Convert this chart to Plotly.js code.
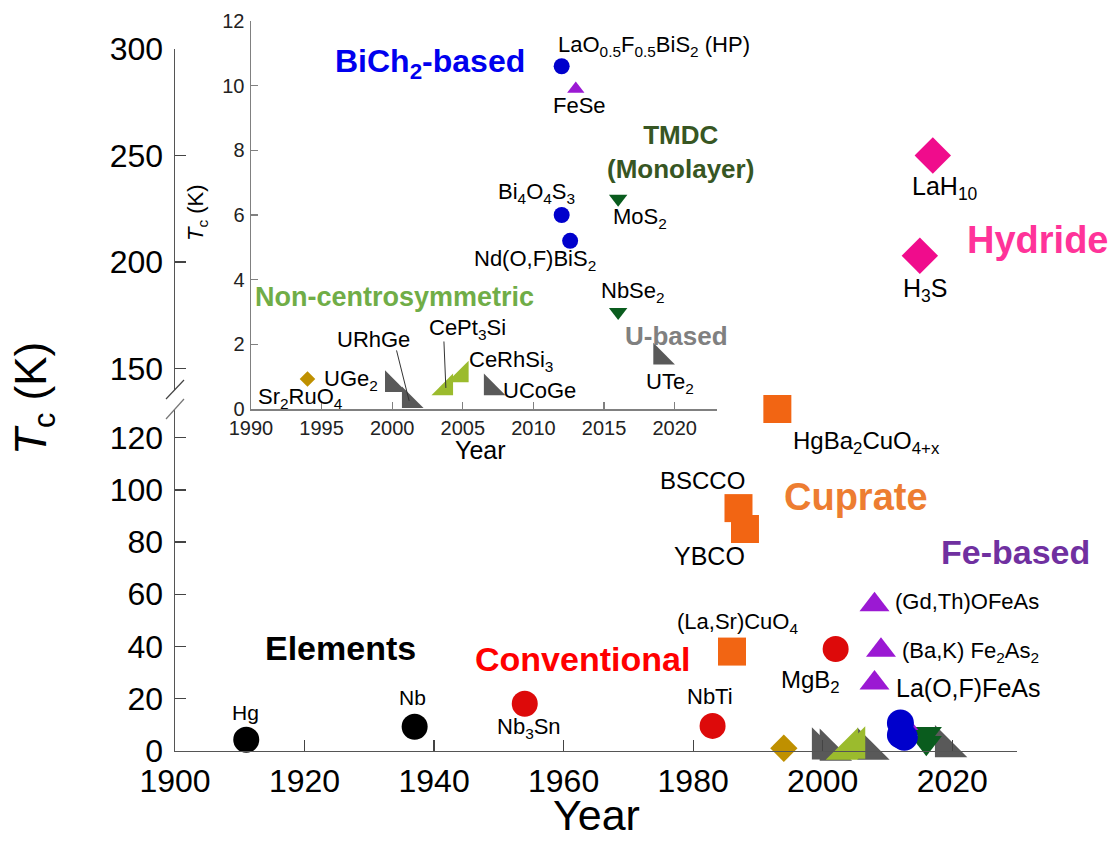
<!DOCTYPE html>
<html><head><meta charset="utf-8">
<script src="https://cdn.plot.ly/plotly-3.0.1.min.js"></script>
<style>html,body{margin:0;padding:0;background:#fff}#chart{width:1115px;height:841px}</style>
</head><body><div id="chart"></div>
<script>
// ---------------- data (year, Tc in K) ----------------
const elementsNames = ['Hg', 'Nb'];
const elementsYear = [1911, 1937];
const elementsTc = [4.2, 9.2];

const conventionalNames = ['Nb3Sn', 'NbTi', 'MgB2'];
const conventionalYear = [1954, 1983, 2002];
const conventionalTc = [18, 9.5, 39];

const cuprateNames = ['(La,Sr)CuO4', 'BSCCO', 'YBCO', 'HgBa2CuO4+x'];
const cuprateYear = [1986, 1987, 1988, 1993];
const cuprateTc = [38, 93, 85, 131];

const feNames = ['La(O,F)FeAs', '(Ba,K)Fe2As2', '(Gd,Th)OFeAs'];
const feYear = [2008, 2009, 2008];
const feTc = [26, 38.5, 56];

const feseNames = ['FeSe'];
const feseYear = [2013];
const feseTc = [9.9];

const bichNames = ['LaO0.5F0.5BiS2 (HP)', 'Bi4O4S3', 'Nd(O,F)BiS2'];
const bichYear = [2012, 2012, 2012.6];
const bichTc = [10.6, 6.0, 5.2];

const tmdcNames = ['MoS2', 'NbSe2'];
const tmdcYear = [2016, 2016];
const tmdcTc = [6.5, 3.0];

const ncNames = ['CePt3Si', 'CeRhSi3'];
const ncYear = [2003.8, 2004.9];
const ncTc = [0.65, 1.05];

const uNames = ['UGe2', 'URhGe', 'UCoGe', 'UTe2'];
const uYear = [2000, 2001.2, 2007, 2019];
const uTc = [0.75, 0.25, 0.65, 1.6];

const ruNames = ['Sr2RuO4'];
const ruYear = [1994];
const ruTc = [0.93];

const hydrideNames = ['H3S', 'LaH10'];
const hydrideYear = [2015, 2017];
const hydrideTc = [203, 250];

const mainXTicks = [1900, 1920, 1940, 1960, 1980, 2000, 2020];
const lowerYTicks = [0, 20, 40, 60, 80, 100, 120];
const upperYTicks = [150, 200, 250, 300];
const insetXTicks = [1990, 1995, 2000, 2005, 2010, 2015, 2020];
const insetYTicks = [0, 2, 4, 6, 8, 10, 12];

// ---------------- helpers ----------------
const W = 1115, H = 841;
const F = 'Liberation Sans, Arial, sans-serif';
const px = x => x / W;
const py = y => 1 - y / H;

function tr(xs, ys, names, sym, size, color, xa, ya) {
  return {
    type: 'scatter', mode: 'markers', x: xs, y: ys, text: names,
    xaxis: xa, yaxis: ya, cliponaxis: false, hoverinfo: 'text',
    marker: {symbol: sym, size: size, color: color, line: {width: 0}},
    showlegend: false
  };
}

const C = {
  el: '#000000', conv: '#DD0A0A', cup: '#F26513', fe: '#9B19D3',
  bich: '#0000CC', tmdc: '#0A5C1E', nc: '#9BBB2D', u: '#595959',
  ru: '#BF9000', hyd: '#F00C8C'
};

const traces = [
  // main (lower segment)
  tr(elementsYear, elementsTc, elementsNames, 'circle', 26, C.el, 'x', 'y'),
  tr(conventionalYear, conventionalTc, conventionalNames, 'circle', 26, C.conv, 'x', 'y'),
  tr(cuprateYear, cuprateTc, cuprateNames, 'square', 28, C.cup, 'x', 'y'),
  tr(feYear, feTc, feNames, 'triangle-up', 26, C.fe, 'x', 'y'),
  tr(ruYear, ruTc, ruNames, 'diamond', 21, C.ru, 'x', 'y'),
  tr(uYear, uTc, uNames, 'triangle-sw', 36, C.u, 'x', 'y'),
  tr(ncYear, ncTc, ncNames, 'triangle-se', 36, C.nc, 'x', 'y'),
  tr(tmdcYear, tmdcTc, tmdcNames, 'triangle-down', 27, C.tmdc, 'x', 'y'),
  tr(feseYear, feseTc, feseNames, 'triangle-up', 20, C.fe, 'x', 'y'),
  tr(bichYear, bichTc, bichNames, 'circle', 27, C.bich, 'x', 'y'),
  // main (upper segment)
  tr(hydrideYear, hydrideTc, hydrideNames, 'diamond', 28, C.hyd, 'x', 'y2'),
  // inset
  tr(ruYear, ruTc, ruNames, 'diamond', 12, C.ru, 'x2', 'y3'),
  tr(uYear, uTc, uNames, 'triangle-sw', 24, C.u, 'x2', 'y3'),
  tr(ncYear, ncTc, ncNames, 'triangle-se', 24, C.nc, 'x2', 'y3'),
  tr(tmdcYear, tmdcTc, tmdcNames, 'triangle-down', 16, C.tmdc, 'x2', 'y3'),
  tr(feseYear, feseTc, feseNames, 'triangle-up', 15, C.fe, 'x2', 'y3'),
  tr(bichYear, bichTc, bichNames, 'circle', 16, C.bich, 'x2', 'y3')
];

function lab(text, x, y, size, color, bold, angle) {
  return {
    xref: 'paper', yref: 'paper', x: px(x), y: py(y),
    xanchor: 'center', yanchor: 'middle', showarrow: false,
    text: bold ? '<b>' + text + '</b>' : text,
    textangle: angle || 0,
    font: {family: F, size: size, color: color || '#000'}
  };
}
function leader(xv, yv, ax, ay) {
  return {
    xref: 'x2', yref: 'y3', x: xv, y: yv, text: '', showarrow: true,
    arrowhead: 0, arrowwidth: 1, arrowcolor: '#333', ax: ax, ay: ay, standoff: 0
  };
}

const mainYearTitle = lab('Year', 597, 841, 43, '#000');
mainYearTitle.yanchor = 'bottom';

const annotations = [
  // axis titles
  lab('<i>T</i><sub>c</sub> (K)', 34, 399, 44, '#000', false, -90),
  mainYearTitle,
  lab('Year', 480, 450, 25, '#000'),
  lab('<i>T</i><sub>c</sub> (K)', 197, 213, 22, '#000', false, -90),
  // group labels
  lab('Elements', 340, 648, 34, '#000000', true),
  lab('Conventional', 582, 659, 34, '#FF0000', true),
  lab('Cuprate', 856, 497, 38, '#ED7D31', true),
  lab('Fe-based', 1015, 552, 34, '#7030A0', true),
  lab('Hydride', 1037, 240, 38, '#FF3399', true),
  lab('BiCh<sub>2</sub>-based', 430, 64, 32, '#0000EE', true),
  lab('TMDC<br>(Monolayer)', 680, 152, 26, '#375623', true),
  lab('Non-centrosymmetric', 394, 297, 27, '#70AD47', true),
  lab('U-based', 676, 336, 26, '#808080', true),
  // main compound labels
  lab('Hg', 245, 712, 21),
  lab('Nb', 412, 697, 21),
  lab('Nb<sub>3</sub>Sn', 529, 728, 22),
  lab('NbTi', 710, 696, 22),
  lab('(La,Sr)CuO<sub>4</sub>', 737, 623, 22),
  lab('MgB<sub>2</sub>', 810, 681, 24),
  lab('BSCCO', 702, 480, 24),
  lab('YBCO', 709, 556, 25),
  lab('HgBa<sub>2</sub>CuO<sub>4+x</sub>', 866, 442, 24),
  lab('(Gd,Th)OFeAs', 967, 601, 22),
  lab('(Ba,K) Fe<sub>2</sub>As<sub>2</sub>', 970, 652, 22),
  lab('La(O,F)FeAs', 968, 688, 25),
  lab('LaH<sub>10</sub>', 945, 188, 25),
  lab('H<sub>3</sub>S', 925, 290, 25),
  // inset compound labels
  lab('LaO<sub>0.5</sub>F<sub>0.5</sub>BiS<sub>2</sub> (HP)', 654, 46, 22),
  lab('FeSe', 579, 105, 22),
  lab('Bi<sub>4</sub>O<sub>4</sub>S<sub>3</sub>', 536, 193, 22),
  lab('MoS<sub>2</sub>', 640, 218, 22),
  lab('Nd(O,F)BiS<sub>2</sub>', 535, 260, 22),
  lab('NbSe<sub>2</sub>', 633, 292, 22),
  lab('URhGe', 373, 339, 22),
  lab('CePt<sub>3</sub>Si', 467, 329, 22),
  lab('CeRhSi<sub>3</sub>', 511, 361, 22),
  lab('UGe<sub>2</sub>', 351, 380, 22),
  lab('UCoGe', 539, 390, 22),
  lab('Sr<sub>2</sub>RuO<sub>4</sub>', 300, 398, 22),
  lab('UTe<sub>2</sub>', 670, 383, 22),
  // leader lines
  leader(uYear[1], uTc[1], -13, -52),
  leader(ncYear[0], ncTc[0], -2, -48)
];

const mainAxis = {
  showline: true, linecolor: '#555', linewidth: 1.5, ticks: 'inside', ticklen: 11,
  tickwidth: 1.3, tickcolor: '#444', showgrid: false, zeroline: false,
  tickfont: {family: F, size: 32, color: '#000'}, fixedrange: true
};
const insetAxis = {
  showline: true, linecolor: '#808080', linewidth: 1.5, ticks: 'inside', ticklen: 7,
  tickwidth: 1.2, tickcolor: '#808080', showgrid: false, zeroline: false,
  tickfont: {family: F, size: 20, color: '#222'}, fixedrange: true
};

const layout = {
  width: W, height: H, margin: {l: 0, r: 0, t: 0, b: 0},
  paper_bgcolor: '#fff', plot_bgcolor: 'rgba(0,0,0,0)', showlegend: false,
  font: {family: F},
  xaxis: Object.assign({}, mainAxis, {domain: [px(175), px(1017)], range: [1900, 2030], anchor: 'y',
    tickmode: 'array', tickvals: mainXTicks, ticklabelstandoff: 1}),
  yaxis: Object.assign({}, mainAxis, {domain: [py(750.7), py(409)], range: [0, 131], anchor: 'x',
    tickmode: 'array', tickvals: lowerYTicks, ticklabelstandoff: 4}),
  yaxis2: Object.assign({}, mainAxis, {domain: [py(390), py(49)], range: [140, 300], anchor: 'x',
    tickmode: 'array', tickvals: upperYTicks, ticklabelstandoff: 4}),
  xaxis2: Object.assign({}, insetAxis, {domain: [px(251), px(717)], range: [1990, 2023], anchor: 'y3',
    tickmode: 'array', tickvals: insetXTicks, ticklabelstandoff: 0}),
  yaxis3: Object.assign({}, insetAxis, {domain: [py(409), py(21)], range: [0, 12], anchor: 'x2',
    tickmode: 'array', tickvals: insetYTicks, ticklabelstandoff: 1}),
  annotations: annotations,
  shapes: [
    {type: 'line', xref: 'paper', yref: 'paper', x0: px(184), y0: py(380), x1: px(166), y1: py(399),
     line: {color: '#444', width: 1.2}},
    {type: 'line', xref: 'paper', yref: 'paper', x0: px(184), y0: py(399), x1: px(166), y1: py(419),
     line: {color: '#777', width: 1.2}}
  ]
};

Plotly.newPlot('chart', traces, layout, {displayModeBar: false, staticPlot: true});
</script>
</body></html>
